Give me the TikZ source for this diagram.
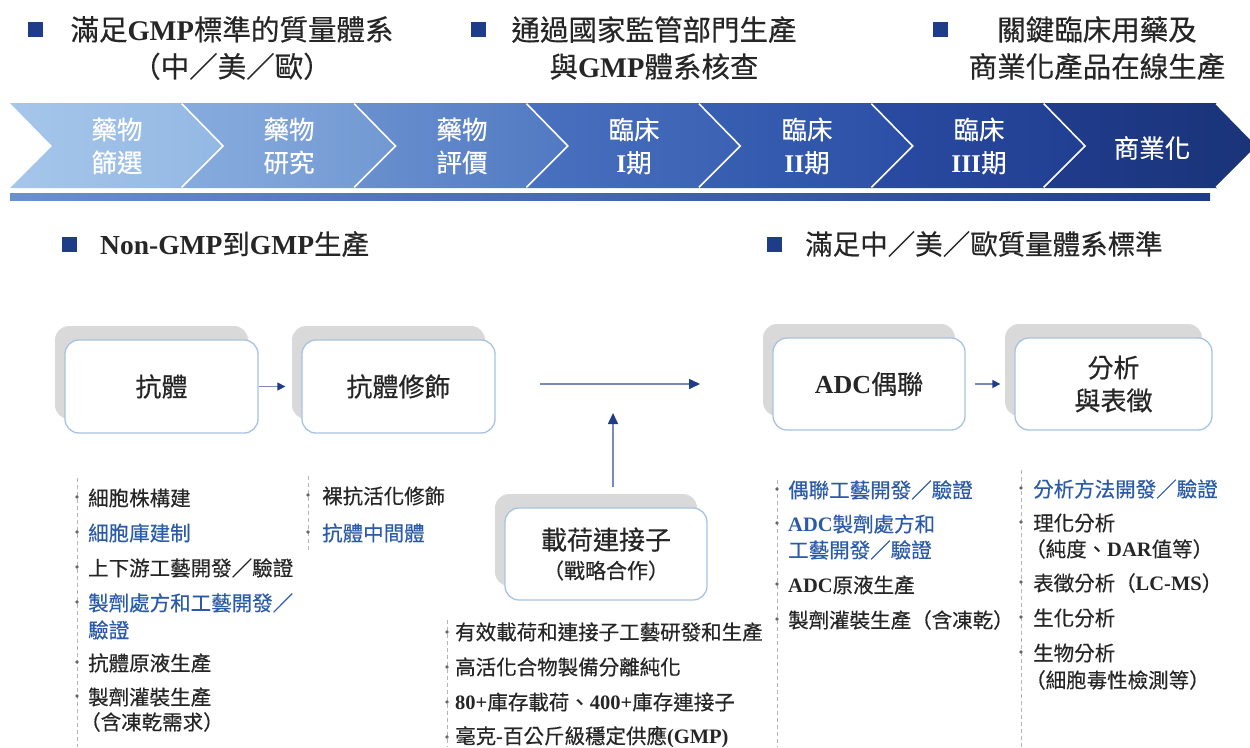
\documentclass[tikz,border=0pt]{standalone}
\usepackage{fontspec}
\setmainfont{Liberation Serif}
\newfontfamily\cjk[FakeBold=0.4]{Noto Sans CJK TC}
\newcommand\en[1]{{\rmfamily\bfseries #1}}
\usetikzlibrary{arrows.meta,shadows,calc}
\definecolor{navy}{HTML}{1F3C88}
\definecolor{txt}{HTML}{262626}
\definecolor{lblue}{HTML}{2B5BA8}
\definecolor{boxb}{HTML}{A8C2E2}
\definecolor{shgray}{HTML}{D9D9D9}
\definecolor{dashg}{HTML}{B5B5B5}
\definecolor{ca}{HTML}{A6C6EA}\definecolor{cb}{HTML}{93B8E3}
\definecolor{cc}{HTML}{86ACDE}\definecolor{cd}{HTML}{7298D2}
\definecolor{ce}{HTML}{6A90CE}\definecolor{cf}{HTML}{5079C2}
\definecolor{cg}{HTML}{4A71BF}\definecolor{ch}{HTML}{3A61B3}
\definecolor{ci}{HTML}{3860B2}\definecolor{cj}{HTML}{2B4FA6}
\definecolor{ck}{HTML}{2A4BA2}\definecolor{cl}{HTML}{213F92}
\definecolor{cm}{HTML}{203C8C}\definecolor{cn}{HTML}{1A3378}
\newcommand\chev[3]{%
  \shade[left color=#2,right color=#3] (#1,103) -- ++(172.4,0) -- ++(42,43) -- ++(-42,42) -- ++(-172.4,0) -- ++(42,-42) -- cycle;
  \draw[white,line width=3.5pt] ($(#1,103)+(172.4,0)$) -- ++(42,43) -- ++(-42,42);}
\tikzset{
  hdr/.style={font=\cjk\fontsize{28.5}{37}\selectfont, text=txt, align=center, inner sep=0},
  hdr2/.style={font=\cjk\fontsize{27.5}{33}\selectfont, text=txt, anchor=west, inner sep=0},
  sq/.style={fill=navy, minimum size=15pt, inner sep=0},
  chevtxt/.style={font=\cjk\fontsize{25.5}{33}\selectfont, text=white, align=center, inner sep=0},
  bx/.style={draw=boxb, line width=1.3pt, fill=white, rounded corners=14pt,
    minimum width=193pt, minimum height=93pt, inner sep=0, text=txt,
    font=\cjk\fontsize{26}{33}\selectfont, align=center,
    copy shadow={shadow xshift=-10pt, shadow yshift=14pt, fill=shgray, draw=none}},
  it/.style={font=\cjk\fontsize{20.5}{26}\selectfont, anchor=west, inner sep=0, text=txt},
  itb/.style={it, text=lblue},
  dl/.style={draw=dashg, dashed, line width=0.7pt, dash pattern=on 4pt off 3pt},
  arr/.style={draw=navy!60, line width=1.6pt, -{Triangle[length=11pt,width=10pt,color=navy]}},
  sarr/.style={draw=navy!60, line width=1.4pt, -{Triangle[length=8pt,width=8pt,color=navy]}},
}
\begin{document}
\begin{tikzpicture}[x=1pt,y=-1pt]
\useasboundingbox (0,0) rectangle (1250,747);
% top headers
\node[sq] (s1) at (35,29) {};
\node[hdr] (h1) at (232,48) {滿足\en{GMP}標準的質量體系\\（中／美／歐）};
\node[sq] (s2) at (478,29) {};
\node[hdr] (h2) at (654,48) {通過國家監管部門生產\\與\en{GMP}體系核查};
\node[sq] (s3) at (940,29) {};
\node[hdr] (h3) at (1097,48) {關鍵臨床用藥及\\商業化產品在線生產};
% chevrons
\chev{10}{ca}{cb}
\chev{182.4}{cc}{cd}
\chev{354.8}{ce}{cf}
\chev{527.2}{cg}{ch}
\chev{699.6}{ci}{cj}
\chev{872}{ck}{cl}
\chev{1044.4}{cm}{cn}
\shade[left color=ce, right color=navy] (10,193) rectangle (1210,200);
\node[chevtxt] (t1) at (117,146) {藥物\\篩選};
\node[chevtxt] (t2) at (289,146) {藥物\\研究};
\node[chevtxt] (t3) at (462,146) {藥物\\評價};
\node[chevtxt] (t4) at (634,146) {臨床\\\en{I}期};
\node[chevtxt] (t5) at (807,146) {臨床\\\en{II}期};
\node[chevtxt] (t6) at (979,146) {臨床\\\en{III}期};
\node[chevtxt] (t7) at (1152,148) {商業化};
% second headers
\node[sq] (s4) at (69,244) {};
\node[hdr2] (h4) at (100,244) {\en{Non-GMP}到\en{GMP}生產};
\node[sq] (s5) at (774,244) {};
\node[hdr2] (h5) at (805,244) {滿足中／美／歐質量體系標準};
% boxes
\node[bx] (b1) at (161.5,386.5) {抗體};
\node[bx] (b2) at (398.5,386.5) {抗體修飾};
\node[bx, minimum width=192pt, minimum height=92pt] (b3) at (869,384) {\en{ADC}偶聯};
\node[bx, minimum width=197pt, minimum height=92pt] (b4) at (1113.5,384) {分析\\與表徵};
\node[bx, minimum width=202pt, minimum height=92pt] (b5) at (606,554) {載荷連接子\\[-4pt]{\fontsize{21}{26}\selectfont（戰略合作）}};
\draw[sarr, shorten >=16pt] (b1.east) -- (b2.west);
\draw[sarr, shorten >=14pt, shorten <=9pt] (b3.east) -- (b4.west);
\coordinate (la) at (540,384);
\coordinate (lb) at (700,384);
\draw[arr] (la) -- (lb);
\coordinate (va) at (613,413);
\draw[arr, shorten <=20pt] (va |- b5.north) -- (va);
% list 1
\draw[dl] (77,478) -- (77,747);
\foreach \y in {497,532,567,602,662,696} \fill[txt!70] (77,\y) circle (1.8);
\node[it] (a1) at (88,498) {細胞株構建};
\node[itb] (a2) at (88,533) {細胞庫建制};
\node[it] (a3) at (88,568) {上下游工藝開發／驗證};
\node[itb] (a4) at (88,603) {製劑處方和工藝開發／};
\node[itb] (a4b) at (88,630) {驗證};
\node[it] (a5) at (88,663) {抗體原液生產};
\node[it] (a6) at (88,697) {製劑灌裝生產};
\node[it] (a6b) at (80,722) {（含凍乾需求）};
% list 2
\draw[dl] (308,476) -- (308,553);
\foreach \y in {495,532} \fill[txt!70] (308,\y) circle (1.8);
\node[it] (m1) at (322,496) {裸抗活化修飾};
\node[itb] (m2) at (322,533) {抗體中間體};
% list 3
\draw[dl] (447,620) -- (447,747);
\foreach \y in {632,667,702,737} \fill[txt!70] (447,\y) circle (1.8);
\node[it] (p1) at (455,632) {有效載荷和連接子工藝研發和生產};
\node[it] (p2) at (455,667) {高活化合物製備分離純化};
\node[it] (p3) at (455,702) {\en{80+}庫存載荷、\en{400+}庫存連接子};
\node[it] (p4) at (455,737) {毫克\en{-}百公斤級穩定供應\en{(GMP)}};
% list 4
\draw[dl] (777,480) -- (777,747);
\foreach \y in {489,523,584,619} \fill[txt!70] (777,\y) circle (1.8);
\node[itb] (q1) at (788,490) {偶聯工藝開發／驗證};
\node[itb] (q2) at (788,524) {\en{ADC}製劑處方和};
\node[itb] (q2b) at (788,550) {工藝開發／驗證};
\node[it] (q3) at (788,585) {\en{ADC}原液生產};
\node[it] (q4) at (788,620) {製劑灌裝生產（含凍乾）};
% list 5
\draw[dl] (1021,470) -- (1021,747);
\foreach \y in {488,522,582,617,652} \fill[txt!70] (1021,\y) circle (1.8);
\node[itb] (r1) at (1033,489) {分析方法開發／驗證};
\node[it] (r2) at (1033,523) {理化分析};
\node[it] (r2b) at (1025,549) {（純度、\en{DAR}值等）};
\node[it] (r3) at (1033,583) {表徵分析（\en{LC-MS}）};
\node[it] (r4) at (1033,618) {生化分析};
\node[it] (r5) at (1033,653) {生物分析};
\node[it] (r5b) at (1025,680) {（細胞毒性檢測等）};
\end{tikzpicture}
\end{document}
